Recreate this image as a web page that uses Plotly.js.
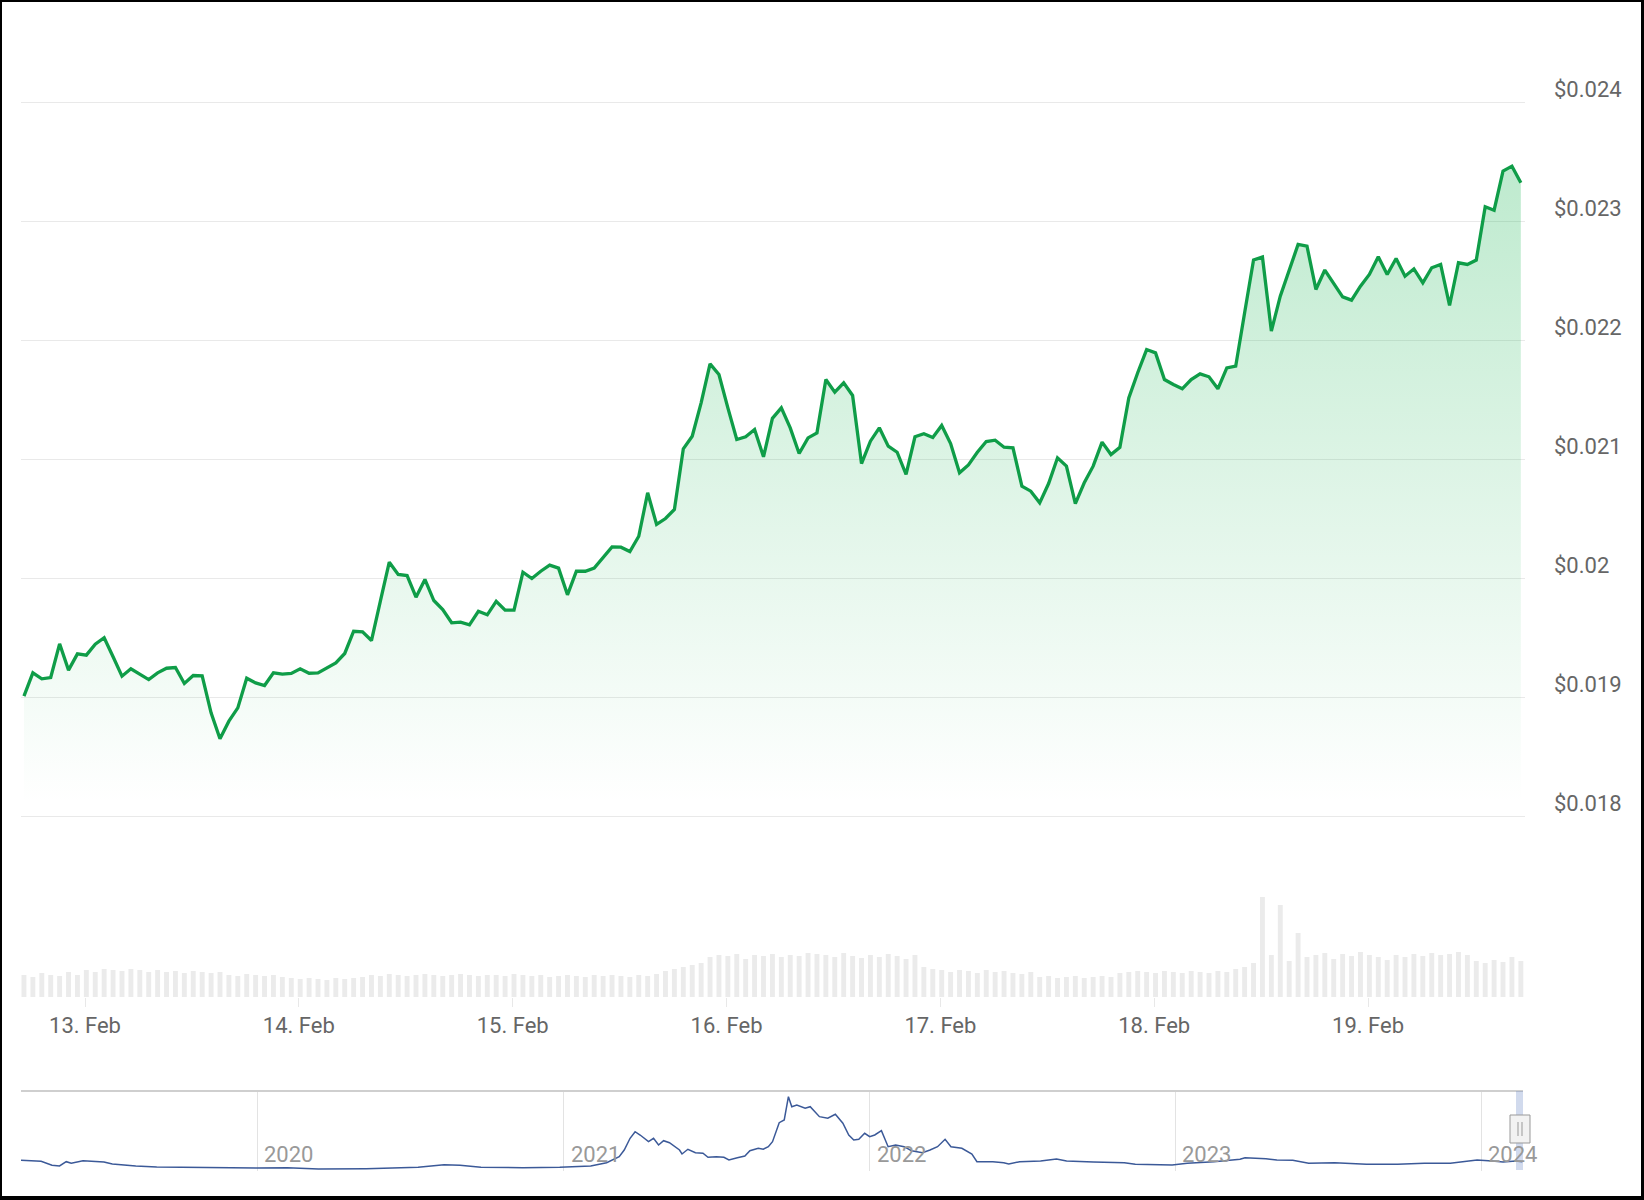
<!DOCTYPE html>
<html><head><meta charset="utf-8">
<script src="https://cdn.plot.ly/plotly-3.0.1.min.js"></script>
<style>
html,body{margin:0;padding:0;background:#fff;}
#wrap{position:relative;width:1644px;height:1200px;}
#chart{width:1644px;height:1200px;}
#frame{position:absolute;left:0;top:0;width:1644px;height:1200px;box-sizing:border-box;border-style:solid;border-color:#000;border-width:2px 3px 4px 2px;pointer-events:none;}
</style>
</head><body>
<div id="wrap"><div id="chart"></div><div id="frame"></div></div>
<script>
// ---- data ----
const priceStartUTC = Date.UTC(2024, 1, 12, 17, 9); // first hourly point
const priceValues = [
0.019011,0.019207,0.019157,0.019168,0.019451,0.019230,0.019367,0.019356,0.019448,0.019502,
0.019342,0.019179,0.019241,0.019193,0.019151,0.019207,0.019246,0.019252,0.019118,0.019185,
0.019182,0.018871,0.018653,0.018801,0.018913,0.019162,0.019123,0.019101,0.019207,0.019196,
0.019202,0.019241,0.019204,0.019207,0.019252,0.019291,0.019370,0.019557,0.019552,0.019479,
0.019809,0.020137,0.020034,0.020025,0.019843,0.019992,0.019815,0.019739,0.019628,0.019633,
0.019611,0.019725,0.019695,0.019809,0.019734,0.019734,0.020053,0.020000,0.020061,0.020112,
0.020087,0.019863,0.020061,0.020061,0.020087,0.020174,0.020266,0.020263,0.020227,0.020355,
0.020720,0.020454,0.020504,0.020580,0.021090,0.021196,0.021476,0.021804,0.021714,0.021434,
0.021168,0.021191,0.021252,0.021023,0.021346,0.021434,0.021266,0.021050,0.021182,0.021224,
0.021672,0.021566,0.021644,0.021538,0.020966,0.021154,0.021266,0.021112,0.021061,0.020874,
0.021191,0.021216,0.021185,0.021286,0.021134,0.020888,0.020955,0.021061,0.021151,0.021162,
0.021103,0.021098,0.020776,0.020734,0.020636,0.020798,0.021014,0.020944,0.020630,0.020804,
0.020944,0.021146,0.021042,0.021103,0.021518,0.021729,0.021924,0.021896,0.021672,0.021630,
0.021594,0.021672,0.021720,0.021695,0.021594,0.021770,0.021784,0.022233,0.022676,0.022701,
0.022079,0.022373,0.022583,0.022807,0.022793,0.022429,0.022592,0.022485,0.022367,0.022339,
0.022456,0.022555,0.022704,0.022555,0.022689,0.022540,0.022602,0.022485,0.022611,0.022639,
0.022294,0.022653,0.022639,0.022676,0.023124,0.023095,0.023423,0.023465,0.023325
];
const volumeValues = [
22,20,24,22,21,25,22,
27,25,28,27,26,28,27,25,27,
25,26,24,26,25,24,25,
22,21,23,22,21,22,20,
19,18,19,18,17,19,18,19,20,
22,21,23,22,21,22,23,22,21,22,23,22,21,22,22,21,23,22,
21,22,20,21,22,21,20,22,21,22,21,20,22,21,23,
26,28,30,32,34,
40,42,41,43,38,42,41,43,40,42,41,44,
43,42,40,44,41,39,42,40,43,41,38,42,
30,28,27,25,27,26,24,27,25,26,24,23,25,
20,21,19,20,21,19,20,21,20,
24,25,26,25,24,26,25,24,26,25,24,26,25,
28,30,34,
100,42,92,36,64,
40,42,44,38,43,41,45,42,40,37,42,40,43,41,44,42,43,45,42,36,34,37,35,40,36
];
const navDates = [
'2019-03-25','2019-04-18','2019-05-01','2019-05-10','2019-05-18','2019-05-24','2019-06-07','2019-06-20',
'2019-07-02','2019-07-12','2019-08-09','2019-09-03','2019-11-04','2019-12-31','2020-02-06','2020-03-14',
'2020-05-10','2020-07-11','2020-08-11','2020-08-30','2020-09-24','2020-11-13','2020-12-27','2021-01-14',
'2021-02-02','2021-02-21','2021-03-02','2021-03-08','2021-03-14','2021-03-21','2021-03-27','2021-04-02',
'2021-04-12','2021-04-18','2021-04-24','2021-04-30','2021-05-07','2021-05-13','2021-05-19','2021-05-22',
'2021-05-29','2021-06-07','2021-06-16','2021-06-22','2021-07-02','2021-07-11','2021-07-17','2021-07-27',
'2021-08-05','2021-08-11','2021-08-21','2021-08-27','2021-09-02','2021-09-07','2021-09-15','2021-09-21',
'2021-09-26','2021-09-30','2021-10-06','2021-10-16','2021-10-22','2021-11-02','2021-11-12','2021-11-21',
'2021-11-30','2021-12-07','2021-12-13','2021-12-19','2021-12-26','2022-01-01','2022-01-07','2022-01-15',
'2022-01-20','2022-01-23','2022-02-01','2022-02-11','2022-02-20','2022-03-05','2022-03-14','2022-03-23',
'2022-04-01','2022-04-08','2022-04-21','2022-05-03','2022-05-09','2022-05-28','2022-06-10','2022-06-16',
'2022-06-29','2022-07-24','2022-08-12','2022-08-24','2022-09-25','2022-11-01','2022-11-14','2022-12-28',
'2023-01-15','2023-02-16','2023-03-19','2023-03-25','2023-04-19','2023-05-02','2023-05-21','2023-06-09',
'2023-07-10','2023-08-17','2023-09-23','2023-10-25','2023-11-25','2023-12-27','2024-01-14','2024-01-27',
'2024-02-11','2024-02-19'
];
const navValues = [
0.0268,0.0243,0.0143,0.0125,0.0233,0.0193,0.0258,0.0250,
0.0225,0.0175,0.0125,0.0100,0.0083,0.0075,0.0083,0.0050,
0.0058,0.0093,0.0158,0.0143,0.0093,0.0083,0.0093,0.0100,
0.0125,0.0208,0.0293,0.0358,0.0525,0.0818,0.0983,0.0900,
0.0733,0.0818,0.0650,0.0758,0.0708,0.0608,0.0525,0.0425,
0.0543,0.0458,0.0443,0.0343,0.0358,0.0343,0.0275,0.0333,
0.0375,0.0508,0.0568,0.0543,0.0608,0.0733,0.1208,0.1275,
0.1858,0.1608,0.1650,0.1568,0.1608,0.1358,0.1318,0.1418,
0.1193,0.0900,0.0775,0.0793,0.0943,0.0858,0.0900,0.1008,
0.0775,0.0608,0.0650,0.0608,0.0508,0.0458,0.0525,0.0608,
0.0793,0.0608,0.0568,0.0425,0.0233,0.0233,0.0208,0.0175,
0.0233,0.0250,0.0300,0.0250,0.0225,0.0208,0.0168,0.0150,
0.0193,0.0233,0.0293,0.0333,0.0308,0.0275,0.0268,0.0193,
0.0208,0.0168,0.0168,0.0193,0.0193,0.0275,0.0250,0.0225,
0.0250,0.0233
];
const navYearLabels = ['2020', '2021', '2022', '2023', '2024'];

// ---- build ----
const HOUR = 3600000;
const priceTimes = priceValues.map((_, i) => priceStartUTC + i * HOUR);
const volTimes = volumeValues.map((_, i) => priceStartUTC + i * HOUR);

const W = 1644, H = 1200, ML = 21, MR = 119;
const PW = W - ML - MR;
const px = v => (v - ML) / PW;      // pixel -> paper x
const py = v => 1 - v / H;          // pixel -> paper y

const FONT = 'Roboto, "Open Sans", sans-serif';

const traces = [
  {
    x: volTimes, y: volumeValues, type: 'bar', xaxis: 'x', yaxis: 'y2',
    marker: {color: '#ebebeb', line: {width: 0}}, width: 0.55 * HOUR,
    hoverinfo: 'skip'
  },
  {
    x: priceTimes, y: priceValues, type: 'scatter', mode: 'lines', xaxis: 'x', yaxis: 'y',
    line: {color: '#0f9d48', width: 3.3, shape: 'linear'},
    fill: 'tozeroy',
    fillgradient: {type: 'vertical', start: 0.0181, stop: 0.0235,
      colorscale: [[0, 'rgba(22,180,80,0.0)'], [1, 'rgba(22,180,80,0.28)']]}
  },
  {
    x: navDates, y: navValues, type: 'scatter', mode: 'lines', xaxis: 'x2', yaxis: 'y3',
    line: {color: '#3b5998', width: 1.5}, hoverinfo: 'skip'
  }
];

const annotations = navYearLabels.map(yr => ({
  text: yr, x: yr + '-01-01', xref: 'x2', y: py(1154.5), yref: 'paper',
  xanchor: 'left', yanchor: 'middle', xshift: 5, showarrow: false,
  font: {family: FONT, size: 22, color: '#999999'}
}));

const layout = {
  width: W, height: H,
  margin: {l: ML, r: MR, t: 0, b: 0, pad: 0},
  paper_bgcolor: '#ffffff', plot_bgcolor: 'rgba(0,0,0,0)',
  showlegend: false,
  font: {family: FONT, color: '#666666'},
  xaxis: {
    type: 'date', anchor: 'y2', domain: [0, 1],
    range: ['2024-02-12 16:49', '2024-02-19 17:37'],
    tick0: '2024-02-13', dtick: 86400000, tickformat: '%-d. %b',
    showgrid: false, zeroline: false, showline: false,
    ticks: 'outside', ticklen: 9, tickcolor: '#e8e8e8', tickwidth: 1,
    tickfont: {family: FONT, size: 22, color: '#666666'},
    ticklabelstandoff: 0
  },
  yaxis: {
    domain: [py(818.9), py(100.1)], anchor: 'x', side: 'right',
    range: [0.01798, 0.02402], dtick: 0.001, tick0: 0.018,
    tickprefix: '$', tickformat: '.3~f',
    showgrid: true, gridcolor: '#e9e9e9', gridwidth: 1,
    zeroline: false, showline: false, ticks: '',
    tickfont: {family: FONT, size: 22, color: '#666666'},
    ticklabelstandoff: 28, ticklabelshift: -13
  },
  yaxis2: {
    domain: [py(997), py(887)], anchor: 'x', range: [0, 110],
    showgrid: false, zeroline: false, showticklabels: false, showline: false, ticks: ''
  },
  xaxis2: {
    type: 'date', anchor: 'y3', domain: [0, px(1523)],
    range: ['2019-03-25', '2024-02-19 19:00'],
    tick0: '2020-01-01', dtick: 'M12',
    showgrid: true, gridcolor: '#e3e3e3', gridwidth: 1,
    zeroline: false, showline: false, ticks: '', showticklabels: false
  },
  yaxis3: {
    domain: [py(1171), py(1092)], anchor: 'x2', range: [0, 0.1975],
    showgrid: false, zeroline: false, showticklabels: false, showline: false, ticks: ''
  },
  annotations: annotations,
  shapes: [
    {type: 'line', xref: 'paper', yref: 'paper', x0: px(21), x1: px(1523), y0: py(1091), y1: py(1091),
     line: {color: '#cfcfcf', width: 2}},
    {type: 'rect', xref: 'paper', yref: 'paper', x0: px(1516), x1: px(1523), y0: py(1170), y1: py(1091),
     fillcolor: 'rgba(102,133,194,0.30)', line: {width: 0}},
    {type: 'rect', xref: 'paper', yref: 'paper', x0: px(1510), x1: px(1530), y0: py(1143), y1: py(1115),
     fillcolor: '#f2f2f2', line: {color: '#999999', width: 1}},
    {type: 'line', xref: 'paper', yref: 'paper', x0: px(1518), x1: px(1518), y0: py(1136), y1: py(1122),
     line: {color: '#999999', width: 1}},
    {type: 'line', xref: 'paper', yref: 'paper', x0: px(1522), x1: px(1522), y0: py(1136), y1: py(1122),
     line: {color: '#999999', width: 1}}
  ]
};

Plotly.newPlot('chart', traces, layout, {staticPlot: true, displayModeBar: false});
</script>
</body></html>
